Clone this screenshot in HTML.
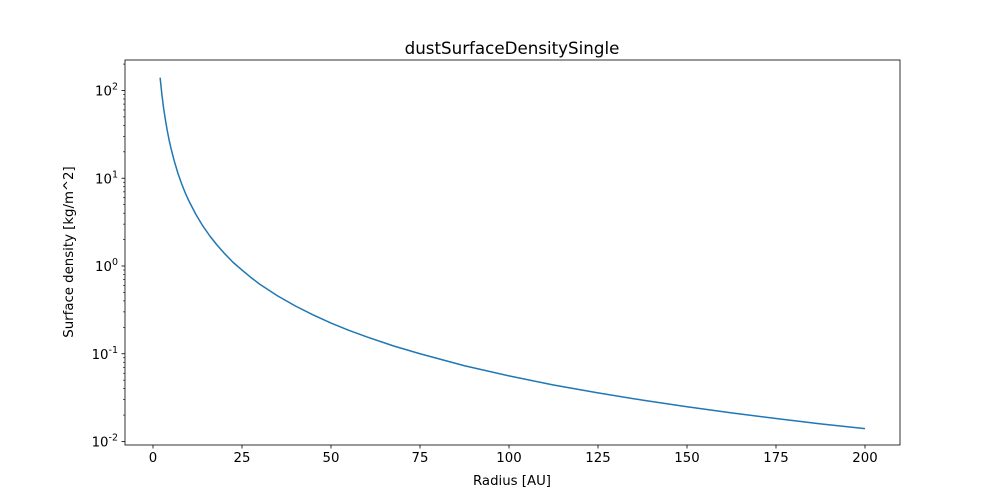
<!DOCTYPE html>
<html><head><meta charset="utf-8"><style>
body{margin:0;background:#fff;}
svg{display:block;font-family:"DejaVu Sans","Liberation Sans",sans-serif;}
</style></head><body>
<svg id="chart" width="1000" height="500">
<rect x="0" y="0" width="1000" height="500" fill="#fff"/>
<g id="plot"></g>
</svg>
<script>
const radius = [2,2.5,3,3.5,4,4.5,5,6,7,8,9,10,12,14,16,18,20,22.5,25,27.5,30,35,40,45,50,55,60,67.5,75,87.5,100,112.5,125,137.5,150,162.5,175,187.5,200];
const density = [140,90,62,46,35,27.6,22.4,15.6,11.4,8.75,6.9,5.6,3.9,2.86,2.19,1.73,1.4,1.1,0.9,0.74,0.62,0.457,0.35,0.277,0.224,0.185,0.156,0.123,0.1,0.073,0.056,0.044,0.0358,0.0296,0.0249,0.0212,0.0183,0.0159,0.014];
const xTicks = [0,25,50,75,100,125,150,175,200];
const yExps = [-2,-1,0,1,2];

const L=125,R=900,T=60,B=445;
const NS="http://www.w3.org/2000/svg";
const g=document.getElementById('plot');
const xs=v=>153+(v-0)*(865-153)/200;
const ys=v=>266-Math.log10(v)*87.75;
function el(t,a,p){const e=document.createElementNS(NS,t);for(const k in a)e.setAttribute(k,a[k]);(p||g).appendChild(e);return e;}

let d=radius.map((r,i)=>(i?'L':'M')+xs(r).toFixed(2)+','+ys(density[i]).toFixed(2)).join('');
const line=el('path',{d:d,fill:'none',stroke:'#1f77b4','stroke-width':1.5,'stroke-linejoin':'round'});



const fr=el('rect',{x:L,y:T,width:R-L,height:B-T,fill:'none',stroke:'#000','stroke-width':0.8});



xTicks.forEach(v=>{
  const x=xs(v);
  el('line',{x1:x,x2:x,y1:B,y2:B+3.5,stroke:'#000','stroke-width':0.8});
  const t=el('text',{x:x,y:B+17,'text-anchor':'middle','font-size':13.3});
  t.textContent=v;
  
  
});
yExps.forEach(e=>{
  const y=ys(Math.pow(10,e));
  el('line',{x1:L,x2:L-3.5,y1:y,y2:y,stroke:'#000','stroke-width':0.8});
  const t=el('text',{x:L-7,y:y+5,'text-anchor':'end','font-size':13.3});
  t.textContent='10';
  const s=el('tspan',{dy:-6,'font-size':9.5},t);s.textContent=e;
  
  
});
for(let e=-3;e<=2;e++)for(let m=2;m<=9;m++){
  const y=ys(m*Math.pow(10,e));
  if(y<T||y>B)continue;
  el('line',{x1:L,x2:L-2,y1:y,y2:y,stroke:'#000','stroke-width':0.6});
}
let t=el('text',{x:512,y:54,'text-anchor':'middle','font-size':16.7});t.textContent='dustSurfaceDensitySingle';

t=el('text',{x:512,y:485,'text-anchor':'middle','font-size':13.3});t.textContent='Radius [AU]';

t=el('text',{x:0,y:0,'text-anchor':'middle','font-size':13.3,transform:'translate(73,252) rotate(-90)'});t.textContent='Surface density [kg/m^2]';

</script>
</body></html>
